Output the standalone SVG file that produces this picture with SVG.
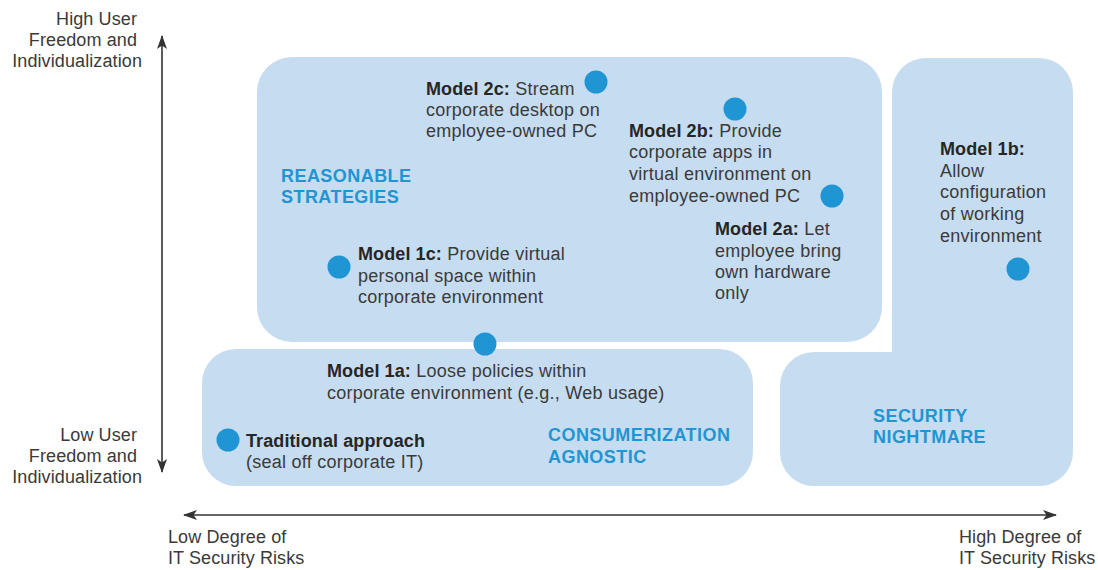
<svg xmlns="http://www.w3.org/2000/svg" width="1098" height="570" viewBox="0 0 1098 570">
  <style>
    text { font-family: "Liberation Sans", Arial, Helvetica, sans-serif; font-size: 18px; fill: #3a3a3a; letter-spacing: 0.25px; }
    .b { font-weight: bold; fill: #262626; letter-spacing: 0.1px; }
    .ax { letter-spacing: 0.1px; }
    .zone { fill: #c6dcf0; }
    .cat { font-weight: bold; fill: #1f95d3; letter-spacing: 0.45px; }
    .dot { fill: #1f95d3; }
    .axis { stroke: #333333; stroke-width: 1.6; fill: none; }
  </style>
  <defs>
    <marker id="arrow" viewBox="0 0 14 10" refX="13" refY="5" markerWidth="14" markerHeight="10" markerUnits="userSpaceOnUse" orient="auto-start-reverse">
      <path d="M0,0 L14,5 L0,10 L3.5,5 Z" fill="#333333"/>
    </marker>
  </defs>

  <!-- zones -->
  <g id="zone-reasonable">
    <rect class="zone" x="257" y="57" width="625" height="285" rx="35" ry="35"/>
    <text class="cat" x="281" y="182">REASONABLE</text>
    <text class="cat" x="281" y="203">STRATEGIES</text>
  </g>
  <g id="zone-agnostic">
    <rect class="zone" x="202" y="349" width="551" height="137" rx="34" ry="34"/>
    <text class="cat" x="548" y="441">CONSUMERIZATION</text>
    <text class="cat" x="548" y="463">AGNOSTIC</text>
  </g>
  <g id="zone-nightmare">
    <path class="zone" d="M926,58 H1039 A34,34 0 0 1 1073,92 V452 A34,34 0 0 1 1039,486 H814 A34,34 0 0 1 780,452 V386 A34,34 0 0 1 814,352 H892 V92 A34,34 0 0 1 926,58 Z"/>
    <text class="cat" x="873" y="422">SECURITY</text>
    <text class="cat" x="873" y="443">NIGHTMARE</text>
  </g>

  <!-- axes -->
  <g id="connectors">
    <line class="axis" x1="162" y1="254" x2="162" y2="36" marker-end="url(#arrow)"/>
    <line class="axis" x1="162" y1="254" x2="162" y2="472" marker-end="url(#arrow)"/>
    <line class="axis" x1="620" y1="515" x2="184" y2="515" marker-end="url(#arrow)"/>
    <line class="axis" x1="620" y1="515" x2="1056" y2="515" marker-end="url(#arrow)"/>
  </g>

  <g id="axis-labels">
    <text class="ax" x="137" y="25" text-anchor="end">High User</text>
    <text class="ax" x="137" y="46" text-anchor="end">Freedom and</text>
    <text class="ax" x="142" y="67" text-anchor="end">Individualization</text>
    <text class="ax" x="137" y="441" text-anchor="end">Low User</text>
    <text class="ax" x="137" y="462" text-anchor="end">Freedom and</text>
    <text class="ax" x="142" y="483" text-anchor="end">Individualization</text>
    <text class="ax" x="168" y="543">Low Degree of</text>
    <text class="ax" x="168" y="564">IT Security Risks</text>
    <text class="ax" x="959" y="543">High Degree of</text>
    <text class="ax" x="959" y="564">IT Security Risks</text>
  </g>

  <!-- strategy models -->
  <g id="model-2c">
    <circle class="dot" cx="596" cy="82" r="11.5"/>
    <text x="426" y="95"><tspan class="b">Model 2c:</tspan> Stream</text>
    <text x="426" y="116">corporate desktop on</text>
    <text x="426" y="137">employee-owned PC</text>
  </g>
  <g id="model-2b">
    <circle class="dot" cx="735" cy="109" r="11.5"/>
    <text x="629" y="137"><tspan class="b">Model 2b:</tspan> Provide</text>
    <text x="629" y="158">corporate apps in</text>
    <text x="629" y="180">virtual environment on</text>
    <text x="629" y="202">employee-owned PC</text>
  </g>
  <g id="model-2a">
    <circle class="dot" cx="832" cy="196" r="11.5"/>
    <text x="715" y="235"><tspan class="b">Model 2a:</tspan> Let</text>
    <text x="715" y="257">employee bring</text>
    <text x="715" y="278">own hardware</text>
    <text x="715" y="299">only</text>
  </g>
  <g id="model-1b">
    <circle class="dot" cx="1018" cy="269" r="11.5"/>
    <text x="940" y="155" class="b">Model 1b:</text>
    <text x="940" y="177">Allow</text>
    <text x="940" y="198">configuration</text>
    <text x="940" y="220">of working</text>
    <text x="940" y="242">environment</text>
  </g>
  <g id="model-1c">
    <circle class="dot" cx="339" cy="267" r="11.5"/>
    <text x="358" y="260"><tspan class="b">Model 1c:</tspan> Provide virtual</text>
    <text x="358" y="282">personal space within</text>
    <text x="358" y="303">corporate environment</text>
  </g>
  <g id="model-1a">
    <circle class="dot" cx="485" cy="344" r="11.5"/>
    <text x="327" y="377"><tspan class="b">Model 1a:</tspan> Loose policies within</text>
    <text x="327" y="399">corporate environment (e.g., Web usage)</text>
  </g>
  <g id="traditional">
    <circle class="dot" cx="228" cy="440" r="11.5"/>
    <text x="246" y="447" class="b">Traditional approach</text>
    <text x="246" y="468">(seal off corporate IT)</text>
  </g>
</svg>
